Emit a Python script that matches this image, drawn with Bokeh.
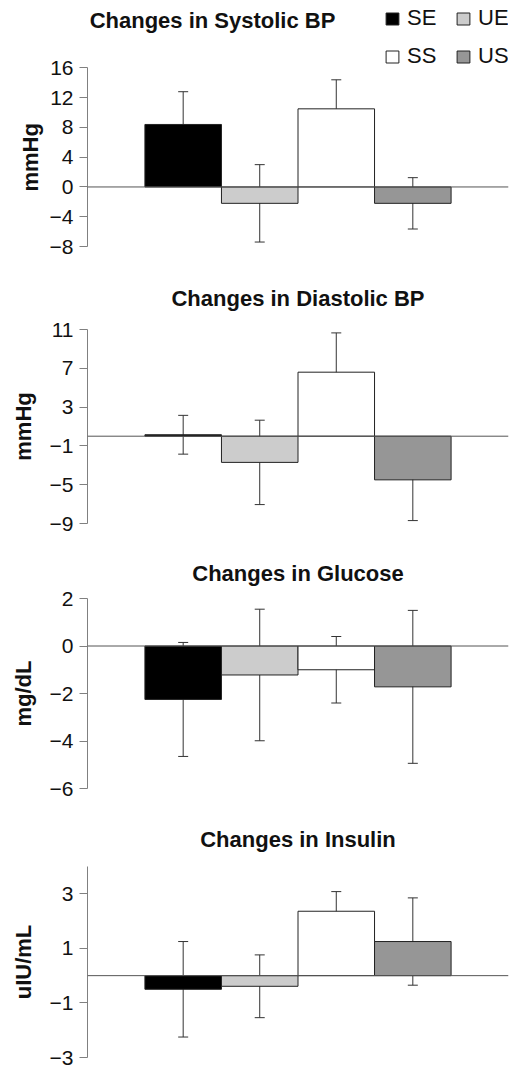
from bokeh.plotting import figure
from bokeh.models import (ColumnDataSource, FactorRange, Range1d, FixedTicker, Span,
                          Whisker, TeeHead, Legend, LegendItem, Label, Title)
from bokeh.layouts import column
from bokeh.embed import file_html
from bokeh.resources import INLINE

# ---- data ----
groups = ["SE", "UE", "SS", "US"]
colors = ["#000000", "#cccccc", "#ffffff", "#969696"]

sys_mean = [8.4, -2.2, 10.5, -2.2]
sys_err = [4.4, 5.2, 3.9, 3.45]
sys_ticks = [-8, -4, 0, 4, 8, 12, 16]

dia_mean = [0.15, -2.7, 6.6, -4.5]
dia_err = [2.0, 4.35, 4.05, 4.2]
dia_ticks = [-9, -5, -1, 3, 7, 11]

glu_mean = [-2.25, -1.22, -1.0, -1.72]
glu_err = [2.4, 2.77, 1.4, 3.22]
glu_ticks = [-6, -4, -2, 0, 2]

ins_mean = [-0.5, -0.39, 2.36, 1.25]
ins_err = [1.75, 1.15, 0.72, 1.6]
ins_ticks = [-3, -1, 1, 3]

titles = ["Changes in Systolic BP", "Changes in Diastolic BP",
          "Changes in Glucose", "Changes in Insulin"]
ylabels = ["mmHg", "mmHg", "mg/dL", "uIU/mL"]

FONT = "Liberation Sans"

# layout settings (panel 1 frame extends up to hold title + legend; axis bounded)
panels = [
    dict(mean=sys_mean, err=sys_err, ticks=sys_ticks, yr=(-8, 24.385), bounds=(-8, 16),
         h=260, top=5, bottom=14, right=11, standoff=0, first=True),
    dict(mean=dia_mean, err=dia_err, ticks=dia_ticks, yr=(-9, 11), bounds="auto",
         h=280, top=69, bottom=17, right=18, standoff=37, first=False),
    dict(mean=glu_mean, err=glu_err, ticks=glu_ticks, yr=(-6, 2), bounds="auto",
         h=270, top=58, bottom=22, right=10, standoff=25, first=False),
    dict(mean=ins_mean, err=ins_err, ticks=ins_ticks, yr=(-3, 4), bounds="auto",
         h=258, top=55, bottom=11, right=9, standoff=29, first=False),
]

figs = []
for k, cfg in enumerate(panels):
    p = figure(x_range=FactorRange(*groups, range_padding=0.75, range_padding_units="absolute"),
               y_range=Range1d(*cfg["yr"]), width=526, height=cfg["h"],
               output_backend="svg", toolbar_location=None, x_axis_location=None,
               min_border_left=87, min_border_right=cfg["right"],
               min_border_top=cfg["top"], min_border_bottom=cfg["bottom"])
    if cfg["first"]:
        p.add_layout(Label(x=125, y=226, x_units="screen", y_units="screen",
                           text=titles[k], text_font=FONT, text_font_size="22px",
                           text_font_style="bold", text_color="#111111",
                           text_align="center", text_baseline="alphabetic"))
    else:
        p.title.text = titles[k]
        p.title.text_font = FONT
        p.title.text_font_size = "22px"
        p.title.text_font_style = "bold"
        p.title.text_color = "#111111"
        p.title.align = "center"
        p.title.standoff = cfg["standoff"]

    p.xgrid.grid_line_color = None
    p.ygrid.grid_line_color = None
    p.outline_line_color = None
    p.background_fill_color = "white"

    ax = p.yaxis[0]
    ax.bounds = cfg["bounds"]
    ax.ticker = FixedTicker(ticks=cfg["ticks"])
    ax.major_label_text_font = FONT
    ax.major_label_text_font_size = "21px"
    ax.major_label_text_color = "#111111"
    ax.major_label_standoff = 6
    ax.axis_line_color = "#808080"
    ax.major_tick_line_color = "#808080"
    ax.major_tick_out = 8
    ax.major_tick_in = 0
    ax.minor_tick_out = 0
    ax.minor_tick_in = 0
    if cfg["first"]:
        # label placed along the bounded axis rather than the taller frame
        p.add_layout(Title(text=ylabels[k], align="left", offset=55, standoff=8,
                           text_font=FONT, text_font_size="22px", text_font_style="bold",
                           text_color="#111111"), "left")
    else:
        ax.axis_label = ylabels[k]
        ax.axis_label_text_font = FONT
        ax.axis_label_text_font_size = "22px"
        ax.axis_label_text_font_style = "bold"
        ax.axis_label_text_color = "#111111"
        ax.axis_label_standoff = 11

    mean = cfg["mean"]
    err = cfg["err"]
    src = ColumnDataSource(dict(group=groups, mean=mean, color=colors,
                                upper=[m + e for m, e in zip(mean, err)],
                                lower=[m - e for m, e in zip(mean, err)]))
    r = p.vbar(x="group", top="mean", bottom=0, width=1.0, fill_color="color",
               line_color="#222222", line_width=1, source=src)

    p.add_layout(Span(location=0, dimension="width", line_color="#555555", line_width=1))

    w = Whisker(base="group", upper="upper", lower="lower", source=src,
                line_color="#333333", line_width=1,
                upper_head=TeeHead(size=10, line_color="#333333", line_width=1),
                lower_head=TeeHead(size=10, line_color="#333333", line_width=1))
    p.add_layout(w)

    if cfg["first"]:
        items = [LegendItem(label=g, renderers=[r], index=i) for i, g in enumerate(groups)]
        leg = Legend(items=items, location=(297, 177), orientation="horizontal", ncols=2,
                     label_text_font=FONT, label_text_font_size="22px",
                     label_text_color="#111111", label_width=36,
                     glyph_width=16, glyph_height=15, label_standoff=7, spacing=12,
                     padding=0, margin=0, border_line_color=None,
                     background_fill_alpha=0)
        p.add_layout(leg)
    figs.append(p)

layout = column(*figs, spacing=0)
open("out.html", "w").write(file_html(layout, INLINE))
